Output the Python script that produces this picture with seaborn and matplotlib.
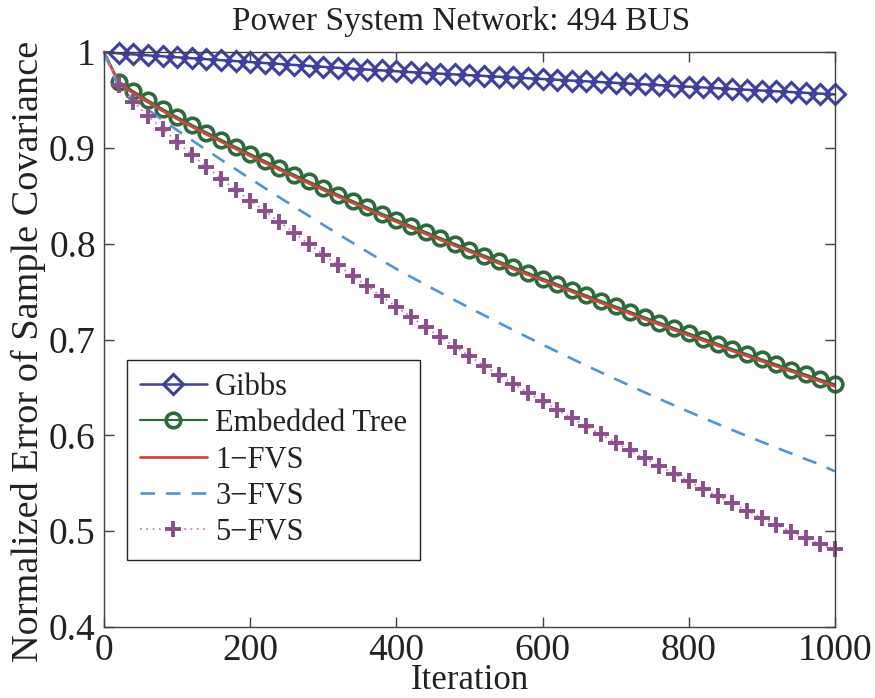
import matplotlib
matplotlib.use("Agg")
import matplotlib.pyplot as plt
import numpy as np
import pandas as pd
import seaborn as sns

# ---------------- data ----------------
iterations = list(range(0, 1001, 20))

gibbs = [1.000, 0.9985, 0.9975, 0.9965, 0.9955, 0.9945, 0.9935, 0.9925, 0.9915, 0.9905,
         0.9895, 0.9885, 0.9875, 0.9865, 0.9855, 0.9845, 0.9835, 0.9826, 0.9817, 0.9808,
         0.9799, 0.9790, 0.9782, 0.9774, 0.9766, 0.9758, 0.9750, 0.9742, 0.9734, 0.9726,
         0.9718, 0.9710, 0.9702, 0.9694, 0.9686, 0.9678, 0.9670, 0.9662, 0.9654, 0.9646,
         0.9638, 0.9630, 0.9622, 0.9614, 0.9606, 0.9598, 0.9590, 0.9582, 0.9574, 0.9566,
         0.9558]

embedded_tree = [1.000, 0.969, 0.959, 0.9495, 0.9405, 0.932, 0.924, 0.916, 0.9084, 0.9009,
                 0.8935, 0.8862, 0.879, 0.8719, 0.8649, 0.858, 0.8512, 0.8445, 0.8379, 0.8313,
                 0.8248, 0.8185, 0.8122, 0.806, 0.7998, 0.7937, 0.7876, 0.7815, 0.7755, 0.7695,
                 0.7636, 0.7577, 0.7518, 0.746, 0.7402, 0.7345, 0.7288, 0.7231, 0.7175, 0.7119,
                 0.7064, 0.7009, 0.6954, 0.69, 0.6846, 0.6793, 0.674, 0.6687, 0.6635, 0.6583,
                 0.6532]

fvs1 = [1.000, 0.967, 0.957, 0.9476, 0.9386, 0.9301, 0.9221, 0.9141, 0.9065, 0.899,
        0.8916, 0.8843, 0.8771, 0.87, 0.863, 0.8561, 0.8493, 0.8426, 0.836, 0.8294,
        0.8229, 0.8166, 0.8103, 0.8041, 0.7979, 0.7918, 0.7857, 0.7796, 0.7736, 0.7676,
        0.7617, 0.7558, 0.7499, 0.7441, 0.7383, 0.7326, 0.7269, 0.7212, 0.7156, 0.71,
        0.7045, 0.699, 0.6935, 0.6881, 0.6827, 0.6774, 0.6721, 0.6668, 0.6616, 0.6564,
        0.6513]

fvs3 = [1.000, 0.962, 0.9508, 0.9398, 0.929, 0.9184, 0.908, 0.8978, 0.8877, 0.8777,
        0.8678, 0.858, 0.8483, 0.8387, 0.8291, 0.8196, 0.8102, 0.8009, 0.7917, 0.7826,
        0.7736, 0.7653, 0.7571, 0.749, 0.741, 0.7331, 0.7253, 0.7175, 0.7098, 0.7022,
        0.6947, 0.6873, 0.68, 0.6728, 0.6657, 0.6587, 0.6517, 0.6448, 0.638, 0.6313,
        0.6247, 0.6182, 0.6118, 0.6055, 0.5993, 0.5932, 0.5871, 0.5812, 0.5753, 0.5695,
        0.5625]

fvs5 = [1.000, 0.966, 0.948, 0.933, 0.920, 0.906, 0.893, 0.880, 0.868, 0.856,
        0.845, 0.834, 0.8226, 0.8112, 0.7999, 0.7887, 0.7776, 0.7666, 0.7557, 0.7449,
        0.7342, 0.7236, 0.7131, 0.7027, 0.6925, 0.6825, 0.6727, 0.6631, 0.6537, 0.6445,
        0.6355, 0.6267, 0.618, 0.6094, 0.6009, 0.5925, 0.5842, 0.576, 0.5679, 0.5599,
        0.552, 0.5442, 0.5365, 0.5289, 0.5214, 0.514, 0.5067, 0.4996, 0.4928, 0.4862,
        0.481]

series_labels = ["Gibbs", "Embedded Tree", "1\u2212FVS", "3\u2212FVS", "5\u2212FVS"]
x_ticks = [0, 200, 400, 600, 800, 1000]
x_tick_labels = ["0", "200", "400", "600", "800", "1000"]
y_ticks = [0.4, 0.5, 0.6, 0.7, 0.8, 0.9, 1.0]
y_tick_labels = ["0.4", "0.5", "0.6", "0.7", "0.8", "0.9", "1"]
title = "Power System Network: 494 BUS"
x_label = "Iteration"
y_label = "Normalized Error of Sample Covariance"

df = pd.DataFrame({"Iteration": iterations, "gibbs": gibbs, "et": embedded_tree,
                   "f1": fvs1, "f3": fvs3, "f5": fvs5})

# ---------------- style ----------------
sns.set_style("ticks")
plt.rcParams["font.family"] = ["Liberation Serif", "DejaVu Serif"]

fig = plt.figure(figsize=(8.75, 6.98), dpi=100)
ax = fig.add_axes([0.119, 0.1017, 0.835, 0.8238])

c_gibbs = "#3f3f9e"
c_et = "#2f6a3c"
c_f1 = "#cc4a3c"
c_f3 = "#4f95d6"
c_f5_line = "#cc80c4"
c_f5_mark = "#8a4f8a"

common = dict(ax=ax, clip_on=False, estimator=None, sort=False)

sns.lineplot(data=df, x="Iteration", y="gibbs", color=c_gibbs, linewidth=1.8,
             marker="D", markersize=9.8, markerfacecolor="none",
             markeredgecolor=c_gibbs, markeredgewidth=2.2,
             markevery=slice(1, None), label=series_labels[0], **common)
sns.lineplot(data=df, x="Iteration", y="et", color=c_et, linewidth=1.6,
             marker="o", markersize=10.5, markerfacecolor="none",
             markeredgecolor=c_et, markeredgewidth=2.6,
             markevery=slice(1, None), label=series_labels[1], **common)
sns.lineplot(data=df, x="Iteration", y="f1", color=c_f1, linewidth=2.0,
             label=series_labels[2], **common)
sns.lineplot(data=df, x="Iteration", y="f3", color=c_f3, linewidth=1.9,
             linestyle=(0, (5.5, 4.2)), label=series_labels[3], **common)
sns.lineplot(data=df, x="Iteration", y="f5", color=c_f5_line, linewidth=1.3,
             linestyle=(0, (1, 2.5)), marker="+", markersize=11,
             markeredgecolor=c_f5_mark, markeredgewidth=2.8,
             markevery=slice(1, None), label=series_labels[4], **common)

ax.set_xlim(0, 1000)
ax.set_ylim(0.4, 1.0)
ax.set_xticks(x_ticks)
ax.set_xticklabels(x_tick_labels)
ax.set_yticks(y_ticks)
ax.set_yticklabels(y_tick_labels)

for s in ax.spines.values():
    s.set_visible(True)
    s.set_color("#404040")
    s.set_linewidth(1.0)
ax.tick_params(direction="in", length=7, width=1.0, colors="#404040",
               top=True, right=True, labelsize=27, labelcolor="#222222")
ax.tick_params(axis="y", pad=6)
ax.tick_params(axis="x", pad=5)

ax.set_xlabel(x_label, fontsize=25, color="#222222", labelpad=-3)
ax.set_ylabel(y_label, fontsize=27.5, color="#222222")
ax.yaxis.set_label_coords(-0.08, 0.48)
ax.set_title(title, fontsize=24, color="#222222", pad=16, x=0.488)

leg = ax.legend(loc="lower left", bbox_to_anchor=(0.031, 0.1165), borderaxespad=0,
                fontsize=22, frameon=True, fancybox=False, framealpha=1,
                edgecolor="#222222", handlelength=2.2, handletextpad=0.27,
                labelspacing=0.24, borderpad=0.42, numpoints=1)
leg.get_frame().set_linewidth(1.0)
for t in leg.get_texts():
    t.set_color("#222222")

fig.savefig("out.png", dpi=100)
